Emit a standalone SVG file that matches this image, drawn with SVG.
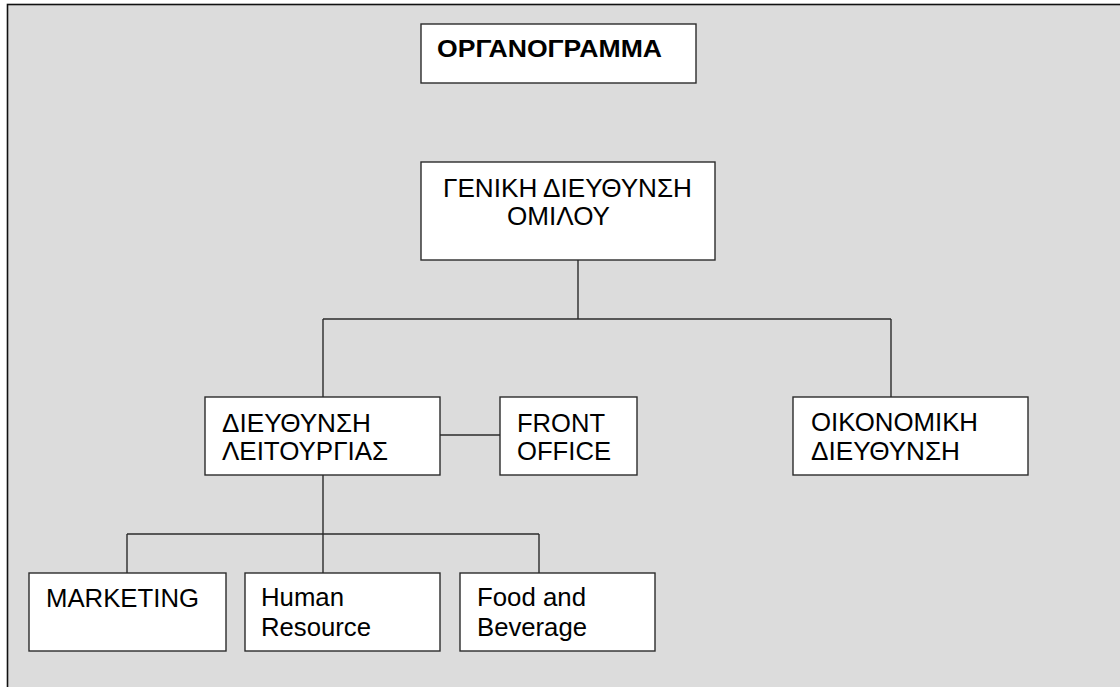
<svg xmlns="http://www.w3.org/2000/svg" width="1120" height="687" viewBox="0 0 1120 687">
  <style>
    .box { fill: #ffffff; stroke: #2b2b2b; stroke-width: 1.4; }
    .wire { fill: none; stroke: #2b2b2b; stroke-width: 1.4; }
    .lbl { font-family: "Liberation Sans", Arial, sans-serif; font-size: 25px; fill: #000000; }
    .ttl { font-family: "Liberation Sans", Arial, sans-serif; font-size: 24px; font-weight: bold; fill: #000000; }
  </style>

  <!-- page background and frame -->
  <rect x="0" y="0" width="1120" height="687" fill="#ffffff"/>
  <rect x="7.5" y="4.5" width="1130" height="700" fill="#dcdcdc" stroke="#111111" stroke-width="1.6"/>

  <!-- connectors -->
  <g id="connectors">
    <path class="wire" d="M578 260 V319 M323 319 H891 M323 319 V397 M891 319 V397"/>
    <path class="wire" d="M440 435 H500"/>
    <path class="wire" d="M323 475 V534 M127 534 H539 M127 534 V573 M323 534 V573 M539 534 V573"/>
  </g>

  <g id="title">
    <rect class="box" x="421" y="24" width="275" height="59"/>
    <text class="ttl" x="437" y="57" textLength="225" lengthAdjust="spacingAndGlyphs">ΟΡΓΑΝΟΓΡΑΜΜΑ</text>
  </g>

  <g id="general-management">
    <rect class="box" x="421" y="162" width="294" height="98"/>
    <text class="lbl" x="443" y="197" textLength="249" lengthAdjust="spacingAndGlyphs">ΓΕΝΙΚΗ ΔΙΕΥΘΥΝΣΗ</text>
    <text class="lbl" x="507" y="225" textLength="103" lengthAdjust="spacingAndGlyphs">ΟΜΙΛΟΥ</text>
  </g>

  <g id="operations">
    <rect class="box" x="205" y="397" width="235" height="78"/>
    <text class="lbl" x="222" y="432" textLength="149" lengthAdjust="spacingAndGlyphs">ΔΙΕΥΘΥΝΣΗ</text>
    <text class="lbl" x="222" y="460" textLength="166" lengthAdjust="spacingAndGlyphs">ΛΕΙΤΟΥΡΓΙΑΣ</text>
  </g>

  <g id="front-office">
    <rect class="box" x="500" y="397" width="137" height="78"/>
    <text class="lbl" x="517" y="432" textLength="88" lengthAdjust="spacingAndGlyphs">FRONT</text>
    <text class="lbl" x="517" y="460" textLength="94" lengthAdjust="spacingAndGlyphs">OFFICE</text>
  </g>

  <g id="finance">
    <rect class="box" x="793" y="397" width="235" height="78"/>
    <text class="lbl" x="811" y="431" textLength="167" lengthAdjust="spacingAndGlyphs">ΟΙΚΟΝΟΜΙΚΗ</text>
    <text class="lbl" x="811" y="460" textLength="149" lengthAdjust="spacingAndGlyphs">ΔΙΕΥΘΥΝΣΗ</text>
  </g>

  <g id="marketing">
    <rect class="box" x="29" y="573" width="197" height="78"/>
    <text class="lbl" x="46" y="607" textLength="153" lengthAdjust="spacingAndGlyphs">MARKETING</text>
  </g>

  <g id="human-resource">
    <rect class="box" x="245" y="573" width="195" height="78"/>
    <text class="lbl" x="261" y="606" textLength="83" lengthAdjust="spacingAndGlyphs">Human</text>
    <text class="lbl" x="261" y="636" textLength="110" lengthAdjust="spacingAndGlyphs">Resource</text>
  </g>

  <g id="food-beverage">
    <rect class="box" x="460" y="573" width="195" height="78"/>
    <text class="lbl" x="477" y="606" textLength="109" lengthAdjust="spacingAndGlyphs">Food and</text>
    <text class="lbl" x="477" y="636" textLength="110" lengthAdjust="spacingAndGlyphs">Beverage</text>
  </g>
</svg>
